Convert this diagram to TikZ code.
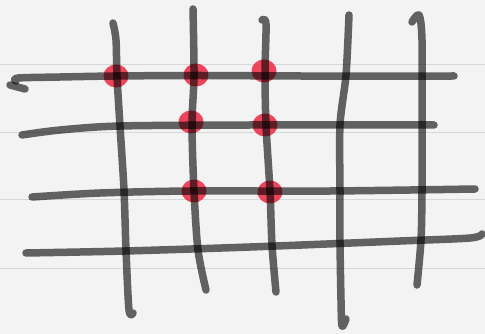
\documentclass[tikz,border=0pt]{standalone}
\definecolor{paper}{RGB}{243,243,243}
\definecolor{ruleline}{RGB}{215,215,215}
\definecolor{dotred}{RGB}{236,40,66}
\begin{document}
\begin{tikzpicture}[x=1pt,y=-1pt,
  stroke/.style={draw=black,draw opacity=0.6,line width=7.5pt,line cap=round,line join=round},
  dot/.style={fill=dotred,fill opacity=0.85},
  rule/.style={draw=ruleline,line width=1pt}]
\fill[paper] (0,0) rectangle (485,334);
\useasboundingbox (0,0) rectangle (485,334);
% ruled paper
\foreach \y in {65,133,200,268} \draw[rule] (0,\y) -- (485,\y);
% red dots
\foreach \p in {{(116,76)},{(196,75)},{(264,71)},{(191,122)},{(265,125)},{(194,191)},{(270,192)}}
  \fill[dot] \p ellipse (12.5pt and 11.5pt);
% horizontal strokes
\draw[stroke] plot[smooth] coordinates {(16,81) (18,78) (60,77) (115,76) (200,75.5) (300,76) (454,76)};
\draw[stroke] (10,85) -- (25,89);
\draw[stroke] plot[smooth] coordinates {(22,135) (60,130) (120,126) (250,125) (434,125)};
\draw[stroke] plot[smooth] coordinates {(32,197) (100,193) (190,191) (330,191) (475,189)};
\draw[stroke] plot[smooth] coordinates {(26,253) (125,251) (250,247) (400,241) (470,238) (482,234)};
% vertical strokes
\draw[stroke] plot[smooth] coordinates {(113,23) (116,40) (117,76) (120,126) (124,190) (126,250) (129,310) (133,313)};
\draw[stroke] plot[smooth] coordinates {(193,9) (194,75) (192,125) (194,191) (198,250) (206,290)};
\draw[stroke] plot[smooth] coordinates {(262,20) (266,24) (265,72) (266,125) (270,191) (272,245) (276,292)};
\draw[stroke] plot[smooth] coordinates {(349,15) (346,75) (340,125) (340,191) (340,242) (341,300) (342,326) (346,319)};
\draw[stroke] plot[smooth] coordinates {(412,22) (419,15) (422,40) (422,125) (422,191) (421,240) (417,285)};
\end{tikzpicture}
\end{document}
